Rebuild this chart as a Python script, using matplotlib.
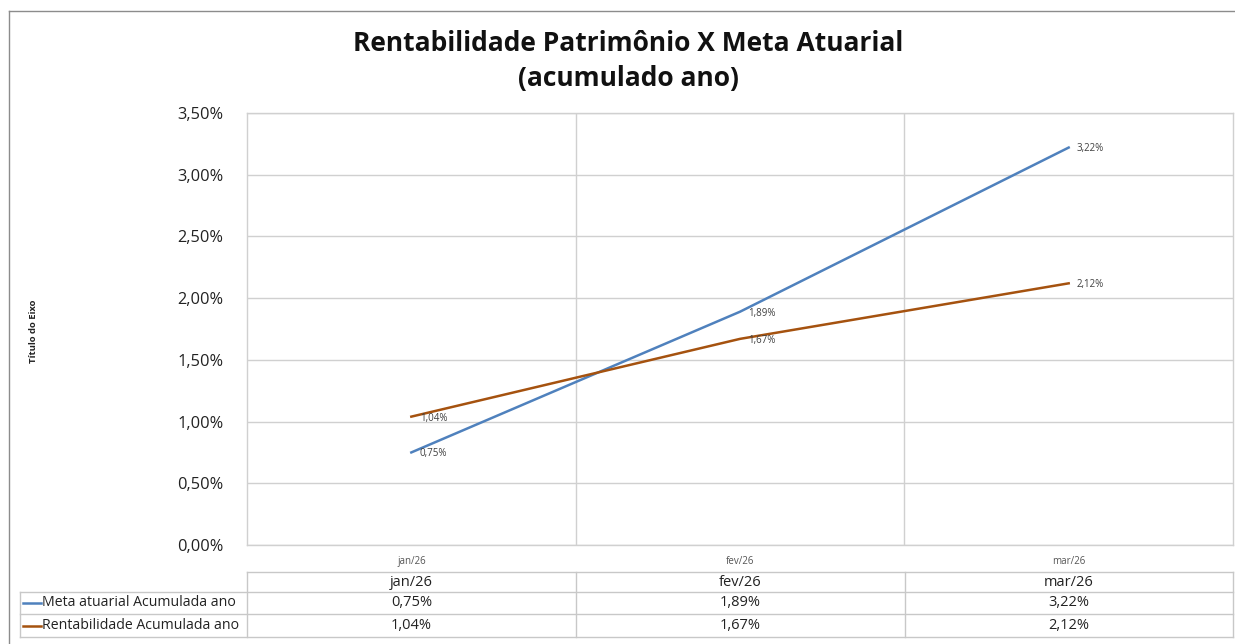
import matplotlib
matplotlib.use("Agg")
import matplotlib.pyplot as plt
from matplotlib.lines import Line2D
import numpy as np

plt.rcParams['font.family'] = ['Open Sans', 'DejaVu Sans']

categories = ["jan/26", "fev/26", "mar/26"]
meta = [0.75, 1.89, 3.22]
rent = [1.04, 1.67, 2.12]
series_names = ["Meta atuarial Acumulada ano", "Rentabilidade Acumulada ano"]
title = "Rentabilidade Patrimônio X Meta Atuarial\n(acumulado ano)"
yticks = [0.0, 0.5, 1.0, 1.5, 2.0, 2.5, 3.0, 3.5]

W, H = 1235, 644
fig = plt.figure(figsize=(W / 100, H / 100), dpi=100)

def fx(px):
    return px / W

def fy(py):
    return 1 - py / H

colors = ["#4F81BD", "#A5520F"]
grid_c = "#D0D0D0"
border_c = "#C8C8C8"

# outer border
fig.add_artist(Line2D([fx(9), fx(9)], [fy(11), 0], color="#8C8C8C", lw=1.0))
fig.add_artist(Line2D([fx(9), 1], [fy(11), fy(11)], color="#8C8C8C", lw=1.0))

L, R, T, B = 247, 1233, 113, 545
ax = fig.add_axes([fx(L), fy(B), fx(R) - fx(L), fy(T) - fy(B)])
n = len(categories)
ax.set_xlim(0, n)
ax.set_ylim(0, 3.5)
x = np.arange(n) + 0.5
for spine in ax.spines.values():
    spine.set_color(grid_c)
    spine.set_linewidth(1.0)
ax.set_yticks(yticks)
ax.set_yticklabels([f"{v:.2f}%".replace(".", ",") for v in yticks], fontsize=11.8, color="#222222")
ax.tick_params(axis='y', length=0, pad=17)
ax.set_xticks(x)
ax.set_xticklabels(categories, fontsize=7, color="#555555")
ax.tick_params(axis='x', length=0, pad=8)
ax.grid(axis='y', color=grid_c, lw=1.0)
for xv in range(1, n):
    ax.axvline(xv, color=grid_c, lw=1.0)
ax.set_axisbelow(True)

for vals, c in zip([meta, rent], colors):
    ax.plot(x, vals, color=c, lw=1.8)
    for xi, v in zip(x, vals):
        ax.annotate(f"{v:.2f}%".replace(".", ","), (xi, v), xytext=(6, -1),
                    textcoords="offset points", fontsize=7, color="#404040",
                    ha="left", va="center")

# axis title
fig.text(fx(33), fy(331), "Título do Eixo", rotation=90, fontsize=6.8,
         fontweight="bold", ha="center", va="center", color="#222222")

# title
fig.text(fx(628), fy(61), title, fontsize=19, fontweight="bold", ha="center",
         va="center", linespacing=1.4, color="#111111")

# data table
col_edges = [L, 576, 905, R]
row_edges = [572, 592, 614, 637]
tl = 20
fig.add_artist(Line2D([fx(L), fx(R)], [fy(row_edges[0])] * 2, color=border_c, lw=1.0))
for ry in row_edges[1:]:
    fig.add_artist(Line2D([fx(tl), fx(R)], [fy(ry)] * 2, color=border_c, lw=1.0))
for cx in col_edges:
    fig.add_artist(Line2D([fx(cx)] * 2, [fy(row_edges[0]), fy(row_edges[-1])], color=border_c, lw=1.0))
fig.add_artist(Line2D([fx(tl)] * 2, [fy(row_edges[1]), fy(row_edges[-1])], color=border_c, lw=1.0))

for i, cat in enumerate(categories):
    cxm = (col_edges[i] + col_edges[i + 1]) / 2
    fig.text(fx(cxm), fy((row_edges[0] + row_edges[1]) / 2), cat, fontsize=10.5,
             ha="center", va="center", color="#222222")
for r, (vals, name, c) in enumerate(zip([meta, rent], series_names, colors)):
    ym = (row_edges[r + 1] + row_edges[r + 2]) / 2
    fig.add_artist(Line2D([fx(23), fx(41)], [fy(ym)] * 2, color=c, lw=1.8))
    fig.text(fx(42), fy(ym), name, fontsize=10.2, ha="left", va="center", color="#222222")
    for i, v in enumerate(vals):
        cxm = (col_edges[i] + col_edges[i + 1]) / 2
        fig.text(fx(cxm), fy(ym), f"{v:.2f}%".replace(".", ","), fontsize=10.5,
                 ha="center", va="center", color="#222222")

fig.savefig("out.png", dpi=100, facecolor="white")
